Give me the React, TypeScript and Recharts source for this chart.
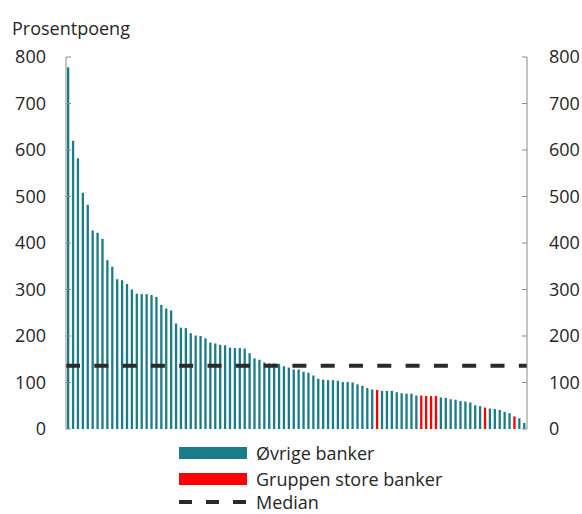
import { ComposedChart, Bar, Line, Cell, XAxis, YAxis, ReferenceLine } from 'recharts';

// Differanse i prosentpoeng, én stolpe per bank, sortert synkende
const verdier = [
  778, 620, 582, 508, 482, 427, 422, 409, 363, 349, 322, 320, 312, 300, 291, 290,
  290, 288, 284, 267, 259, 255, 227, 218, 217, 206, 201, 200, 195, 186, 184,
  181, 180, 175, 174, 174, 173, 163, 152, 149, 143, 141, 141, 140, 135, 132, 128,
  128, 123, 121, 115, 108, 106, 105, 105, 104, 101, 101, 100, 96, 93, 88,
  85, 84, 82, 82, 82, 79, 77, 76, 76, 72, 72, 71, 71, 71, 68, 67,
  64, 63, 60, 59, 57, 51, 49, 46, 44, 43, 41, 37, 34, 27, 23, 13,
];
// stolpenummer (1-basert) som tilhører gruppen store banker
const storeBanker = [64, 73, 74, 75, 76, 86, 92];
const median = 136;
const yTicks = [0, 100, 200, 300, 400, 500, 600, 700, 800];
const serier = ['Øvrige banker', 'Gruppen store banker', 'Median'];

const TEAL = '#1a7c89';
const RED = '#ff0000';
const AXIS = '#8a8a8a';
const TEXT = '#262626';
const FONT = '"Open Sans", sans-serif';

const data = verdier.map((v, i) => ({ nr: i + 1, verdi: v }));

function LeftTick({ x, y, payload }: any) {
  // tickSize=0, tickMargin=20 -> axis line is 20px to the right of x
  return (
    <g>
      <line x1={x + 20} x2={x + 25} y1={y} y2={y} stroke={AXIS} />
      <text x={x} y={y} dy="0.36em" textAnchor="end" fill={TEXT} fontSize={18} fontFamily={FONT}>
        {payload.value}
      </text>
    </g>
  );
}

function RightTick({ x, y, payload }: any) {
  return (
    <g>
      <line x1={x - 22} x2={x - 27} y1={y} y2={y} stroke={AXIS} />
      <text x={x} y={y} dy="0.36em" textAnchor="start" fill={TEXT} fontSize={18} fontFamily={FONT}>
        {payload.value}
      </text>
    </g>
  );
}

function Forklaring() {
  const row = { display: 'flex', alignItems: 'center', height: 26 } as const;
  const label = { marginLeft: 9, fontSize: 18, color: TEXT, fontFamily: FONT, lineHeight: '18px' };
  return (
    <div style={{ position: 'absolute', left: 179, top: 440 }}>
      <div style={row}>
        <div style={{ width: 68, height: 12, background: TEAL }} />
        <span style={label}>{serier[0]}</span>
      </div>
      <div style={row}>
        <div style={{ width: 68, height: 12, background: RED }} />
        <span style={label}>{serier[1]}</span>
      </div>
      <div style={{ ...row, height: 20 }}>
        <svg width={68} height={6}>
          <line x1={0} x2={68} y1={3} y2={3} stroke="#2a2a2a" strokeWidth={4} strokeDasharray="13 14" />
        </svg>
        <span style={label}>{serier[2]}</span>
      </div>
    </div>
  );
}

export default function App() {
  return (
    <div style={{ position: 'absolute', left: 0, top: 0, width: 582, height: 514, background: '#fff' }}>
      <ComposedChart width={582} height={514} data={data} margin={{ top: 57, right: 0, bottom: 85, left: 0 }}>
        <XAxis dataKey="nr" hide />
        <YAxis
          yAxisId="left"
          orientation="left"
          width={66}
          domain={[0, 800]}
          ticks={yTicks}
          interval={0}
          tickSize={0}
          tickMargin={20}
          tickLine={false}
          axisLine={{ stroke: AXIS }}
          tick={<LeftTick />}
          label={{
            value: 'Prosentpoeng',
            content: () => (
              <text x={12} y={35} fill={TEXT} fontSize={18} fontFamily={FONT}>
                Prosentpoeng
              </text>
            ),
          }}
        />
        <YAxis
          yAxisId="right"
          orientation="right"
          width={55}
          domain={[0, 800]}
          ticks={yTicks}
          interval={0}
          tickSize={0}
          tickMargin={22}
          tickLine={false}
          axisLine={{ stroke: AXIS }}
          tick={<RightTick />}
        />
        <Bar yAxisId="left" dataKey="verdi" barSize={2.3} isAnimationActive={false}>
          {data.map((d) => (
            <Cell key={d.nr} fill={storeBanker.includes(d.nr) ? RED : TEAL} />
          ))}
        </Bar>
        {/* usynlig serie som gir høyre akse et domene */}
        <Line
          yAxisId="right"
          dataKey="verdi"
          stroke="none"
          dot={false}
          activeDot={false}
          legendType="none"
          isAnimationActive={false}
        />
        <ReferenceLine
          yAxisId="left"
          y={median}
          stroke="#2a2a2a"
          strokeWidth={4}
          strokeDasharray="14 14.3"
        />
      </ComposedChart>
      <Forklaring />
    </div>
  );
}
